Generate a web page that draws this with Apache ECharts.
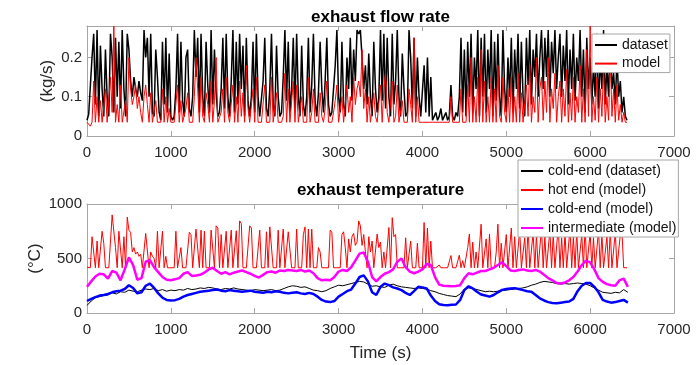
<!DOCTYPE html>
<html>
<head>
<meta charset="utf-8">
<script src="https://cdn.jsdelivr.net/npm/echarts@6/dist/echarts.min.js"></script>
<style>
html,body{margin:0;padding:0;background:#fff;}
#chart{width:699px;height:365px;}
</style>
</head>
<body>
<div id="chart"></div>
<script>
// ---------- DATA ----------
// exhaust flow rate, sampled every 20 s from t = 0 s
const FLOW_DT = 20;
const flowDataset = [
  0.04,0.055,0.05,0.2,0.26,0.08,0.27,0.05,0.23,0.12,
  0.05,0.22,0.1,0.05,0.26,0.2,0.06,0.25,0.1,0.24,
  0.07,0.27,0.12,0.05,0.26,0.22,0.14,0.1,0.15,0.12,
  0.1,0.14,0.11,0.09,0.27,0.2,0.25,0.1,0.26,0.06,
  0.05,0.22,0.15,0.06,0.04,0.24,0.08,0.25,0.06,0.21,
  0.05,0.04,0.05,0.12,0.26,0.06,0.24,0.09,0.05,0.2,
  0.22,0.07,0.05,0.1,0.27,0.15,0.25,0.06,0.26,0.1,
  0.05,0.24,0.13,0.06,0.27,0.08,0.22,0.11,0.05,0.06,
  0.12,0.25,0.07,0.26,0.1,0.05,0.14,0.27,0.06,0.24,
  0.08,0.26,0.12,0.23,0.05,0.25,0.09,0.05,0.1,0.24,
  0.06,0.26,0.1,0.05,0.05,0.14,0.25,0.07,0.05,0.12,
  0.26,0.08,0.05,0.23,0.1,0.05,0.06,0.15,0.27,0.09,
  0.24,0.06,0.12,0.25,0.07,0.26,0.1,0.05,0.23,0.08,
  0.05,0.1,0.25,0.06,0.13,0.26,0.09,0.05,0.11,0.24,
  0.12,0.06,0.14,0.25,0.08,0.05,0.06,0.12,0.18,0.27,
  0.1,0.06,0.24,0.08,0.05,0.2,0.12,0.25,0.09,0.22,
  0.14,0.27,0.26,0.27,0.2,0.12,0.18,0.08,0.21,0.1,
  0.05,0.24,0.12,0.06,0.1,0.27,0.09,0.26,0.07,0.25,
  0.1,0.05,0.26,0.08,0.14,0.27,0.1,0.05,0.21,0.12,
  0.05,0.06,0.27,0.2,0.07,0.25,0.05,0.2,0.1,0.05,
  0.05,0.18,0.06,0.2,0.05,0.15,0.04,0.05,0.06,0.04,
  0.05,0.07,0.04,0.05,0.06,0.04,0.05,0.13,0.05,0.04,
  0.06,0.05,0.1,0.25,0.06,0.22,0.05,0.24,0.1,0.26,
  0.06,0.2,0.12,0.27,0.05,0.25,0.1,0.26,0.06,0.22,
  0.12,0.27,0.05,0.24,0.09,0.26,0.1,0.05,0.27,0.12,
  0.06,0.2,0.1,0.25,0.06,0.22,0.12,0.26,0.07,0.24,
  0.1,0.05,0.25,0.13,0.27,0.08,0.22,0.15,0.26,0.1,
  0.2,0.27,0.12,0.25,0.15,0.27,0.1,0.24,0.16,0.27,
  0.12,0.2,0.26,0.1,0.23,0.14,0.27,0.08,0.22,0.12,
  0.26,0.09,0.2,0.14,0.27,0.1,0.22,0.06,0.25,0.12,
  0.2,0.08,0.18,0.1,0.26,0.07,0.2,0.12,0.27,0.08,
  0.18,0.1,0.25,0.12,0.16,0.08,0.2,0.1,0.14,0.06,
  0.1,0.05,0.04
];
const flowModel = [
  0.035,0.035,0.025,0.035,0.14,0.035,0.1,0.035,0.09,0.035,
  0.035,0.12,0.035,0.035,0.15,0.06,0.28,0.035,0.08,0.035,
  0.13,0.035,0.035,0.09,0.035,0.2,0.12,0.08,0.1,0.13,
  0.07,0.1,0.06,0.035,0.1,0.13,0.08,0.035,0.11,0.035,
  0.035,0.09,0.035,0.035,0.035,0.12,0.035,0.1,0.035,0.07,
  0.035,0.035,0.035,0.035,0.13,0.035,0.09,0.035,0.035,0.07,
  0.11,0.035,0.035,0.035,0.1,0.2,0.12,0.035,0.15,0.05,
  0.035,0.11,0.08,0.035,0.14,0.035,0.09,0.2,0.035,0.035,
  0.06,0.12,0.035,0.15,0.06,0.035,0.035,0.13,0.035,0.1,
  0.035,0.14,0.05,0.11,0.035,0.18,0.07,0.035,0.035,0.12,
  0.035,0.15,0.035,0.035,0.035,0.035,0.13,0.035,0.035,0.035,
  0.15,0.035,0.035,0.11,0.035,0.035,0.035,0.05,0.16,0.035,
  0.12,0.035,0.035,0.14,0.035,0.13,0.035,0.035,0.1,0.035,
  0.035,0.035,0.15,0.035,0.06,0.12,0.035,0.035,0.035,0.11,
  0.05,0.035,0.07,0.14,0.035,0.035,0.035,0.06,0.09,0.13,
  0.035,0.035,0.1,0.035,0.035,0.13,0.06,0.1,0.035,0.15,
  0.08,0.12,0.14,0.1,0.22,0.07,0.12,0.035,0.1,0.035,
  0.035,0.11,0.05,0.035,0.035,0.13,0.035,0.12,0.16,0.06,
  0.035,0.035,0.14,0.035,0.05,0.13,0.035,0.035,0.09,0.035,
  0.035,0.035,0.12,0.08,0.035,0.25,0.035,0.1,0.035,0.035,
  0.035,0.035,0.035,0.035,0.035,0.035,0.035,0.035,0.035,0.035,
  0.035,0.035,0.035,0.035,0.035,0.035,0.035,0.1,0.035,0.035,
  0.035,0.035,0.035,0.12,0.035,0.035,0.035,0.13,0.035,0.2,
  0.035,0.1,0.035,0.15,0.035,0.22,0.035,0.14,0.035,0.1,
  0.035,0.15,0.035,0.12,0.035,0.18,0.05,0.035,0.15,0.06,
  0.035,0.12,0.035,0.15,0.035,0.1,0.035,0.16,0.035,0.11,
  0.035,0.035,0.13,0.05,0.18,0.035,0.1,0.06,0.2,0.035,
  0.12,0.15,0.04,0.14,0.06,0.2,0.035,0.12,0.07,0.16,
  0.035,0.1,0.14,0.035,0.12,0.05,0.17,0.035,0.11,0.04,
  0.15,0.035,0.1,0.06,0.18,0.035,0.12,0.035,0.22,0.05,
  0.28,0.035,0.1,0.04,0.15,0.035,0.12,0.05,0.17,0.035,
  0.1,0.04,0.2,0.05,0.12,0.035,0.13,0.04,0.08,0.035,
  0.06,0.035,0.035
];

// exhaust temperature, hot end (model), sampled every 20 s from t = 0 s
const HOT_DT = 20;
const tempHotEnd = [
  420,415,415,700,710,415,660,415,415,750,
  640,415,415,415,415,900,910,600,415,750,
  740,415,700,415,880,760,740,560,600,540,
  560,520,540,415,415,730,720,415,560,520,
  500,415,750,415,415,750,415,520,415,415,
  415,415,415,750,415,415,600,415,415,415,
  415,740,720,415,415,770,760,415,760,415,
  750,415,415,415,760,755,415,800,780,415,
  720,415,415,750,415,415,760,415,415,755,
  415,845,820,415,415,415,415,800,780,415,
  415,415,415,760,415,415,415,745,415,790,
  780,415,415,415,760,415,415,770,415,415,
  745,740,415,415,415,770,415,415,415,720,
  790,415,770,415,770,415,415,415,600,560,
  415,415,415,420,415,760,740,415,415,415,
  415,415,720,745,600,415,680,560,700,730,
  620,650,845,800,620,720,560,415,700,560,
  660,415,415,725,600,650,415,560,415,415,
  785,415,875,700,720,415,415,415,415,415,
  690,415,415,660,415,415,415,640,415,415,
  415,830,415,780,415,660,415,415,415,415,
  440,415,415,415,420,415,415,527,415,415,
  415,415,530,415,480,415,415,600,725,415,
  650,415,560,415,415,815,415,415,680,415,
  725,415,415,415,560,815,415,640,415,415,
  720,415,415,780,415,700,415,415,760,415,
  415,690,415,800,415,415,740,415,720,415,
  415,780,415,700,415,415,760,415,720,415,
  415,800,415,690,415,740,415,415,780,415,
  700,415,760,415,415,720,415,800,415,415,
  740,415,690,415,415,760,415,720,415,415,
  700,415,760,415,415,740,415,415,720,740,
  415,415,415
];

// exhaust temperature, smooth traces, sampled every 50 s from t = 0 s
const TEMP_DT = 50;
const tempColdDataset = [
  70,110,140,150,160,165,185,175,195,190,
  210,200,195,210,220,215,225,205,215,200,
  210,205,215,210,225,215,220,230,225,235,
  230,220,215,225,220,230,220,215,210,205,
  215,210,205,210,215,205,210,225,240,250,
  245,235,240,225,210,205,195,205,225,240,
  255,250,260,270,280,290,285,265,245,250,
  240,235,255,265,250,240,235,230,225,230,
  225,220,205,195,180,170,160,155,150,175,
  220,230,225,215,205,195,200,195,200,205,
  210,215,220,225,230,240,255,265,280,290,
  285,280,270,265,270,265,270,275,270,265,
  250,230,210,190,185,180,190,185,215,190
];
const tempColdModel = [
  110,130,145,160,165,175,190,200,205,220,
  255,230,180,190,250,270,230,180,140,120,
  115,118,130,150,165,175,185,195,200,205,
  210,215,205,200,210,205,200,195,200,205,
  195,190,185,195,190,200,195,185,180,185,
  190,180,175,185,175,150,120,105,100,110,
  150,175,200,215,270,330,345,290,190,165,
  240,270,255,235,225,210,185,165,200,240,
  235,225,160,110,80,73,72,75,78,120,
  210,245,225,195,170,160,150,165,190,212,
  220,225,228,220,210,200,195,165,135,115,
  100,92,90,95,100,105,130,200,250,275,
  275,240,190,120,105,95,100,110,120,95
];
const tempIntermediate = [
  240,290,335,360,355,315,385,370,300,400,
  510,440,305,320,470,485,420,375,330,305,
  300,310,320,360,375,340,345,350,370,400,
  415,385,360,375,355,370,380,390,375,360,
  340,325,350,375,380,370,390,385,395,390,
  385,395,380,390,365,320,300,305,300,330,
  380,395,385,420,480,545,555,470,330,290,
  330,360,375,400,470,500,420,380,365,380,
  400,450,440,330,260,250,248,245,248,255,
  320,365,355,370,385,385,400,415,440,465,
  430,390,385,395,400,390,385,395,380,350,
  320,300,275,270,280,300,330,380,440,480,
  465,400,320,285,265,255,250,300,315,240
];

// axis ranges / ticks
const X_MIN = 0, X_MAX = 7000, X_STEP = 1000;
const FLOW_MIN = 0, FLOW_MAX = 0.28, FLOW_STEP = 0.1;
const TEMP_MIN = 0, TEMP_MAX = 1000, TEMP_STEP = 500;

// ---------- CHART ----------
function pairs(values, dt) { return values.map((v, i) => [i * dt, v]); }

const FONT = 'Liberation Sans';
const AXIS_COLOR = '#a6a6a6';
const TEXT_COLOR = '#262626';
const plainNum = v => String(+(+v).toFixed(3));

function xAxisPair(gridIndex, withName) {
  const base = {
    gridIndex, type: 'value', min: X_MIN, max: X_MAX, interval: X_STEP,
    splitLine: { show: false },
    axisLine: { show: true, onZero: false, lineStyle: { color: AXIS_COLOR, width: 1 } },
    axisTick: { show: true, inside: true, length: 5, lineStyle: { color: AXIS_COLOR } }
  };
  const bottom = Object.assign({}, base, {
    position: 'bottom',
    axisLabel: { color: TEXT_COLOR, fontSize: 15, margin: 9, fontFamily: FONT, formatter: plainNum }
  });
  if (withName) {
    Object.assign(bottom, {
      name: 'Time (s)', nameLocation: 'middle', nameGap: 32, nameMoveOverlap: false,
      nameTextStyle: { color: TEXT_COLOR, fontSize: 17, fontFamily: FONT }
    });
  }
  const top = Object.assign({}, base, { position: 'top', axisLabel: { show: false } });
  return [bottom, top];
}

function yAxisPair(gridIndex, min, max, step, name, gap) {
  const base = {
    gridIndex, type: 'value', min, max, interval: step,
    splitLine: { show: false },
    axisLine: { show: true, onZero: false, lineStyle: { color: AXIS_COLOR, width: 1 } },
    axisTick: { show: true, inside: true, length: 5, lineStyle: { color: AXIS_COLOR } }
  };
  const left = Object.assign({}, base, {
    position: 'left',
    axisLabel: { color: TEXT_COLOR, fontSize: 15, margin: 5, fontFamily: FONT,
                 formatter: plainNum, showMaxLabel: max % step === 0 },
    name, nameLocation: 'middle', nameGap: gap, nameMoveOverlap: false,
    nameTextStyle: { color: TEXT_COLOR, fontSize: 17, fontFamily: FONT }
  });
  const right = Object.assign({}, base, { position: 'right', axisLabel: { show: false } });
  return [left, right];
}

function lineSeries(name, xi, yi, data, color, width) {
  return {
    name, type: 'line', xAxisIndex: xi, yAxisIndex: yi, data,
    symbol: 'none', showSymbol: false, silent: true, animation: false,
    lineStyle: { color, width }, itemStyle: { color }
  };
}

const legendCommon = {
  orient: 'vertical', selectedMode: false,
  backgroundColor: '#ffffff', borderColor: AXIS_COLOR, borderWidth: 1, borderRadius: 0,
  padding: [4, 2, 2, 2], itemWidth: 22, itemHeight: 14,
  itemStyle: { opacity: 0, borderWidth: 0 },
  textStyle: { color: '#111', fontSize: 14, fontFamily: FONT }
};

const option = {
  animation: false,
  backgroundColor: '#ffffff',
  textStyle: { fontFamily: FONT },
  grid: [
    { left: 87, top: 26, width: 587, height: 110 },
    { left: 87, top: 204, width: 587, height: 109 }
  ],
  xAxis: [...xAxisPair(0, false), ...xAxisPair(1, true)],
  yAxis: [
    ...yAxisPair(0, FLOW_MIN, FLOW_MAX, FLOW_STEP, '(kg/s)', 31),
    ...yAxisPair(1, TEMP_MIN, TEMP_MAX, TEMP_STEP, '(°C)', 43)
  ],
  legend: [
    Object.assign({}, legendCommon, { left: 592, top: 34, itemGap: 4.6, data: ['dataset', 'model'] }),
    Object.assign({}, legendCommon, { left: 518, top: 160, itemGap: 5,
      data: ['cold-end (dataset)', 'hot end (model)', 'cold-end (model)', 'intermediate (model)'] })
  ],
  graphic: [
    { type: 'text', x: 380.5, y: 17, z: 10,
      style: { text: 'exhaust flow rate', align: 'center', verticalAlign: 'middle',
               fontFamily: FONT, fontSize: 17, fontWeight: 'bold', fill: '#000' } },
    { type: 'text', x: 380.5, y: 190, z: 10,
      style: { text: 'exhaust temperature', align: 'center', verticalAlign: 'middle',
               fontFamily: FONT, fontSize: 17, fontWeight: 'bold', fill: '#000' } }
  ],
  series: [
    lineSeries('dataset', 0, 0, pairs(flowDataset, FLOW_DT), '#000000', 1.5),
    lineSeries('model', 0, 0, pairs(flowModel, FLOW_DT), '#ff0000', 1),
    lineSeries('cold-end (dataset)', 2, 2, pairs(tempColdDataset, TEMP_DT), '#000000', 1),
    lineSeries('hot end (model)', 2, 2, pairs(tempHotEnd, HOT_DT), '#ff0000', 1),
    lineSeries('cold-end (model)', 2, 2, pairs(tempColdModel, TEMP_DT), '#0000ff', 2.5),
    lineSeries('intermediate (model)', 2, 2, pairs(tempIntermediate, TEMP_DT), '#ff00ff', 2.5)
  ]
};

const chart = echarts.init(document.getElementById('chart'), null, { renderer: 'canvas' });
chart.setOption(option);
</script>
</body>
</html>
